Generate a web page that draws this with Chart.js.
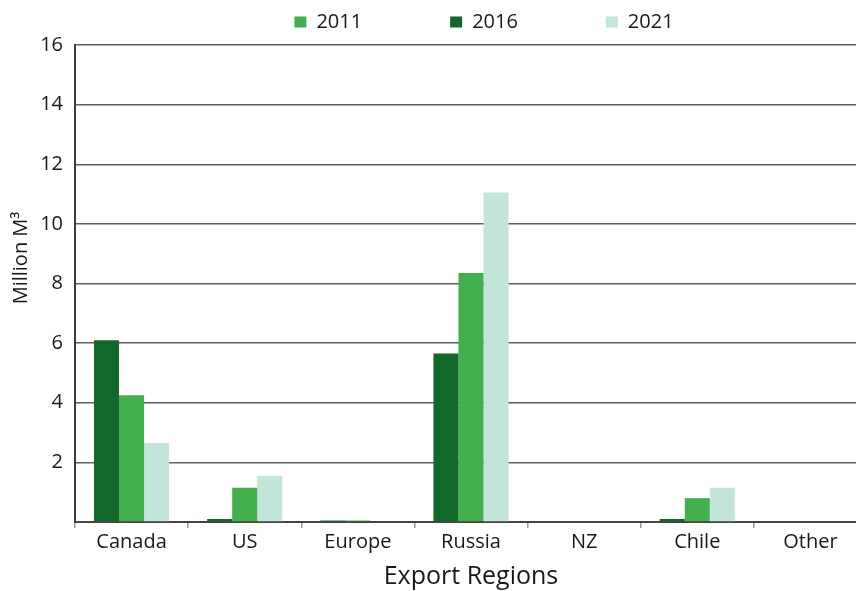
<!DOCTYPE html>
<html>
<head>
<meta charset="utf-8">
<title>Export Regions</title>
<script src="https://cdn.jsdelivr.net/npm/chart.js@4.4.0/dist/chart.umd.min.js"></script>
<style>
  html, body { margin: 0; padding: 0; background: #fff; }
  #wrap { width: 856px; height: 591px; overflow: hidden; }
</style>
</head>
<body>
<div id="wrap"><canvas id="exportChart" width="867" height="591"></canvas></div>
<script>
// Export volumes by region, million m3
const regions = ['Canada', 'US', 'Europe', 'Russia', 'NZ', 'Chile', 'Other'];
const values2016 = [6.1, 0.1, 0.05, 5.65, 0, 0.1, 0];
const values2011 = [4.25, 1.15, 0.05, 8.35, 0, 0.8, 0];
const values2021 = [2.65, 1.55, 0, 11.05, 0, 1.15, 0];
const yTicks = [0, 2, 4, 6, 8, 10, 12, 14, 16];

const fontFamily = '"Open Sans", "Noto Sans", sans-serif';
const textColor = '#1a1718';

// y axis title is drawn by hand so it can sit a little above the middle
const yTitlePlugin = {
    id: 'yTitle',
    afterDraw(chart) {
        const ctx = chart.ctx;
        ctx.save();
        ctx.translate(21, 258);
        ctx.rotate(-Math.PI / 2);
        ctx.font = '20px ' + fontFamily;
        ctx.fillStyle = textColor;
        ctx.textAlign = 'center';
        ctx.textBaseline = 'middle';
        ctx.fillText('Million M\u00b3', 0, 0);
        ctx.restore();
    }
};

// nudge the legend row to where the reference has it
const legendPlacePlugin = {
    id: 'legendPlace',
    afterLayout(chart) {
        const lg = chart.legend;
        const pad = lg.options.labels.padding;
        const shiftX = 484 - (lg.left + lg.right) / 2;
        lg.left += shiftX;
        lg.right += shiftX;
        lg.top = 12 - pad;
    }
};

new Chart(document.getElementById('exportChart'), {
    type: 'bar',
    data: {
        labels: regions,
        datasets: [
            {
                label: '2016',
                data: values2016,
                backgroundColor: '#12672a',
                borderWidth: 0
            },
            {
                label: '2011',
                data: values2011,
                backgroundColor: '#43b04e',
                borderWidth: 0
            },
            {
                label: '2021',
                data: values2021,
                backgroundColor: '#c4e5d9',
                borderWidth: 0
            }
        ]
    },
    options: {
        responsive: false,
        animation: false,
        layout: { padding: 0 },
        datasets: {
            bar: {
                categoryPercentage: 0.664,
                barPercentage: 1.0
            }
        },
        scales: {
            x: {
                offset: true,
                grid: {
                    offset: true,
                    drawOnChartArea: false,
                    drawTicks: true,
                    tickLength: 6,
                    color: '#9a9a9a',
                    lineWidth: 1.5
                },
                border: { color: '#444', width: 2 },
                ticks: {
                    color: textColor,
                    padding: 2,
                    font: { family: fontFamily, size: 20 }
                },
                title: {
                    display: true,
                    text: 'Export Regions',
                    color: textColor,
                    padding: { top: 6, bottom: -1 },
                    font: { family: fontFamily, size: 25 }
                }
            },
            y: {
                min: 0,
                max: 16,
                afterFit(scale) {
                    scale.width = 75;
                },
                afterBuildTicks(scale) {
                    scale.ticks = yTicks.map(v => ({ value: v }));
                },
                grid: {
                    drawTicks: false,
                    color: '#5e5e5e',
                    lineWidth: 1.5
                },
                border: { color: '#3c3c3c', width: 2 },
                ticks: {
                    color: textColor,
                    padding: 12,
                    font: { family: fontFamily, size: 20 },
                    callback: function(value) {
                        return value === 0 ? '' : value;
                    }
                }
            }
        },
        plugins: {
            legend: {
                position: 'top',
                maxHeight: 45,
                labels: {
                    boxWidth: 12,
                    boxHeight: 11,
                    padding: 88,
                    color: textColor,
                    font: { family: fontFamily, size: 20 },
                    sort: (a, b) => a.text.localeCompare(b.text)
                }
            },
            tooltip: { enabled: false },
            title: { display: false }
        }
    },
    plugins: [yTitlePlugin, legendPlacePlugin]
});
</script>
</body>
</html>
